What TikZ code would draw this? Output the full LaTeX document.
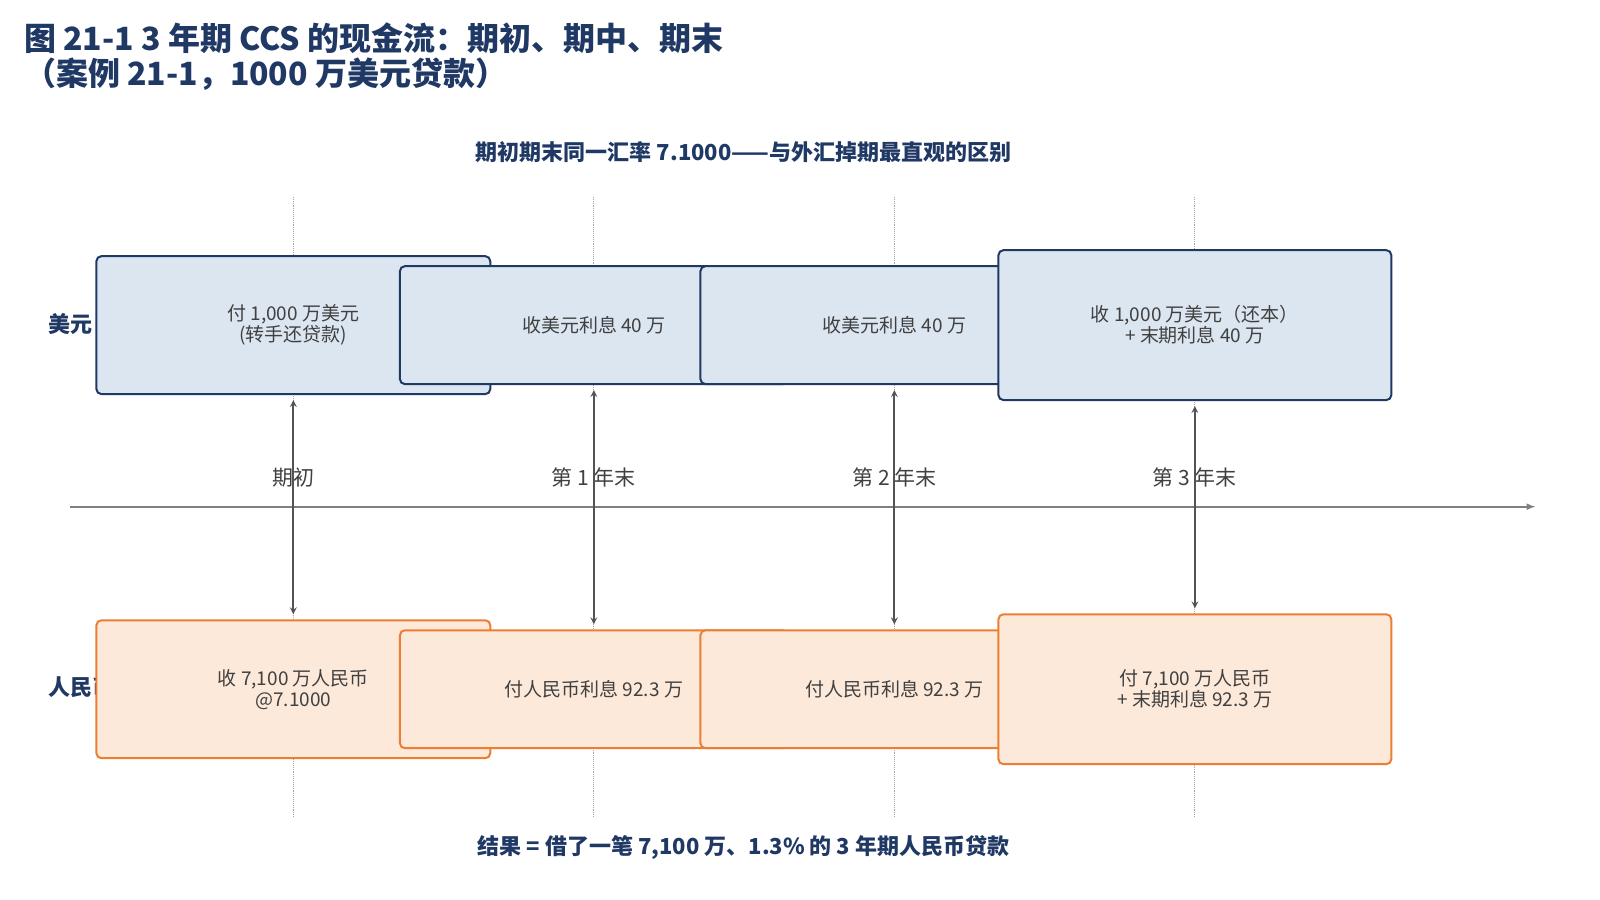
\documentclass[tikz,border=0pt]{standalone}
\usepackage{fontspec}
\setmainfont{Noto Sans CJK SC}
\usetikzlibrary{arrows,positioning,calc}
\definecolor{navy}{HTML}{1F3864}
\definecolor{usdfill}{HTML}{DCE6F1}
\definecolor{rmbfill}{HTML}{FCE9DA}
\definecolor{rmbline}{HTML}{ED7D31}
\definecolor{txt}{HTML}{404040}
\tikzset{
  usdbox/.style={draw=navy,line width=2pt,fill=usdfill,rounded corners=5pt,
    align=center,text=txt,font=\fontsize{19}{21}\selectfont,inner sep=0pt},
  rmbbox/.style={draw=rmbline,line width=2pt,fill=rmbfill,rounded corners=5pt,
    align=center,text=txt,font=\fontsize{19}{21}\selectfont,inner sep=0pt},
  tick/.style={text=txt,font=\fontsize{21}{23}\selectfont},
  head/.style={text=navy,font=\bfseries\fontsize{22}{25}\selectfont},
  link/.style={<->,>=stealth,line width=2pt,draw=txt!90}
}
\begin{document}
\begin{tikzpicture}[x=1.026pt,y=-1.026pt]
  \useasboundingbox (0,0) rectangle (1560,877);
  % title
  \node[anchor=west,text=navy,font=\bfseries\fontsize{32}{36}\selectfont] (title) at (20,37) {图 21-1 3 年期 CCS 的现金流：期初、期中、期末};
  \node[anchor=west,text=navy,font=\bfseries\fontsize{32}{36}\selectfont] (title2) at (20,72) {（案例 21-1，1000 万美元贷款）};
  \node[head] (sub) at (725,148) {期初期末同一汇率 7.1000——与外汇掉期最直观的区别};
  % guides
  \foreach \x in {286,579,872,1165}
    \draw[densely dotted,gray!70,line width=0.9pt] (\x,192) -- (\x,797);
  \node[head,anchor=west] (lusd) at (44,316) {美元};
  \node[head,anchor=west] (lrmb) at (44,670) {人民币};
  % boxes
  \node[usdbox,minimum width=394,minimum height=138] (usd0) at (286,317) {付 1,000 万美元\\(转手还贷款)};
  \node[usdbox,minimum width=388,minimum height=118] (usd1) at (579,317) {收美元利息 40 万};
  \node[usdbox,minimum width=388,minimum height=118] (usd2) at (872,317) {收美元利息 40 万};
  \node[usdbox,minimum width=393,minimum height=150] (usd3) at (1165,317) {收 1,000 万美元（还本）\\+ 末期利息 40 万};
  \node[rmbbox,minimum width=394,minimum height=138] (rmb0) at (286,672) {收 7,100 万人民币\\@7.1000};
  \node[rmbbox,minimum width=388,minimum height=118] (rmb1) at (579,672) {付人民币利息 92.3 万};
  \node[rmbbox,minimum width=388,minimum height=118] (rmb2) at (872,672) {付人民币利息 92.3 万};
  \node[rmbbox,minimum width=393,minimum height=150] (rmb3) at (1165,672) {付 7,100 万人民币\\+ 末期利息 92.3 万};
  % time axis
  \coordinate (a0) at (68,494);
  \coordinate (a1) at (1497,494);
  \draw[-latex,gray,line width=2pt] (a0) -- (a1);
  \node[tick] (t0) at (286,466) {期初};
  \node[tick] (t1) at (579,466) {第 1 年末};
  \node[tick] (t2) at (872,466) {第 2 年末};
  \node[tick] (t3) at (1165,466) {第 3 年末};
  \foreach \i in {0,1,2,3}
    \draw[link,shorten <=5pt,shorten >=5pt] (usd\i.south) -- (rmb\i.north);
  \node[head] (result) at (725,826) {结果 = 借了一笔 7,100 万、1.3\% 的 3 年期人民币贷款};
\end{tikzpicture}
\end{document}
